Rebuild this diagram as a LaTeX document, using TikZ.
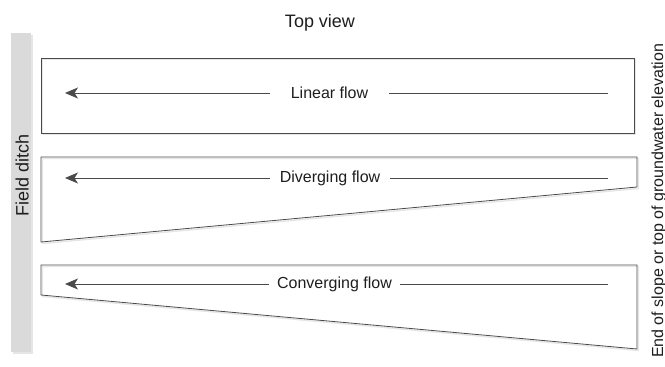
\documentclass[tikz,border=0pt]{standalone}
\usepackage{fontspec}
\setmainfont{Liberation Sans}
\usetikzlibrary{arrows.meta}
\definecolor{inkc}{HTML}{1E1E1E}
\definecolor{linec}{HTML}{4A4A4A}
\definecolor{shadc}{HTML}{E6E6E6}
\definecolor{ditchc}{HTML}{DADADA}
\tikzset{
  field/.style={draw=linec, line width=0.8pt},
  fieldshadow/.style={draw=shadc, line width=1.4pt, xshift=1.5pt, yshift=-1.5pt},
  flowline/.style={draw=linec, line width=0.8pt},
  flowarrow/.style={flowline, -{Stealth[length=13pt,width=11pt,inset=3.5pt]}},
  flowlabel/.style={text=inkc, font=\fontsize{16}{19}\selectfont, inner ysep=0pt},
  sidelabel/.style={text=inkc, rotate=90, anchor=base, inner sep=0pt},
}
\begin{document}
\begin{tikzpicture}[x=1pt,y=-1pt]
\useasboundingbox (0,0) rectangle (665,367);
% field ditch bar
\fill[shadc] (13,35) rectangle (33,354);
\fill[ditchc] (11,33) rectangle (31,352);
\node[sidelabel, font=\fontsize{18}{21}\selectfont] (ditch) at (28.5,175) {Field ditch};
% title
\node[text=inkc, font=\fontsize{18}{21}\selectfont, anchor=base] (title) at (320,27) {Top view};
% right label
\node[sidelabel, font=\fontsize{16}{19}\selectfont] (endlabel) at (663,201) {End of slope or top of groundwater elevation};
% shadows
\draw[fieldshadow] (41,58) rectangle (634,133);
\draw[fieldshadow] (41,157) -- (637,157) -- (637,187) -- (41,242) -- cycle;
\draw[fieldshadow] (41,265) -- (637,265) -- (637,349) -- (41,295) -- cycle;
% fields
\draw[field] (41,58) rectangle (634,133);
\draw[field] (41,157) -- (637,157) -- (637,187) -- (41,242) -- cycle;
\draw[field] (41,265) -- (637,265) -- (637,349) -- (41,295) -- cycle;
% linear flow
\coordinate (ls) at (608,93);
\coordinate (lt) at (65,93);
\node[flowlabel, inner xsep=20.5pt] (lin) at (329.5,93) {Linear flow};
\draw[flowline] (ls) -- (ls -| lin.east);
\draw[flowarrow] (lin.west) -- (lt);
% diverging flow
\coordinate (ds) at (608,178);
\coordinate (dt) at (65,178);
\node[flowlabel, inner xsep=10pt] (div) at (330,178) {Diverging flow};
\draw[flowline] (ds) -- (ds -| div.east);
\draw[flowarrow] (div.west) -- (dt);
% converging flow
\coordinate (cs) at (608,284);
\coordinate (ct) at (65,284);
\node[flowlabel, inner xsep=7.5pt] (conv) at (334.5,284) {Converging flow};
\draw[flowline] (cs) -- (cs -| conv.east);
\draw[flowarrow] (conv.west) -- (ct);
\end{tikzpicture}
\end{document}
